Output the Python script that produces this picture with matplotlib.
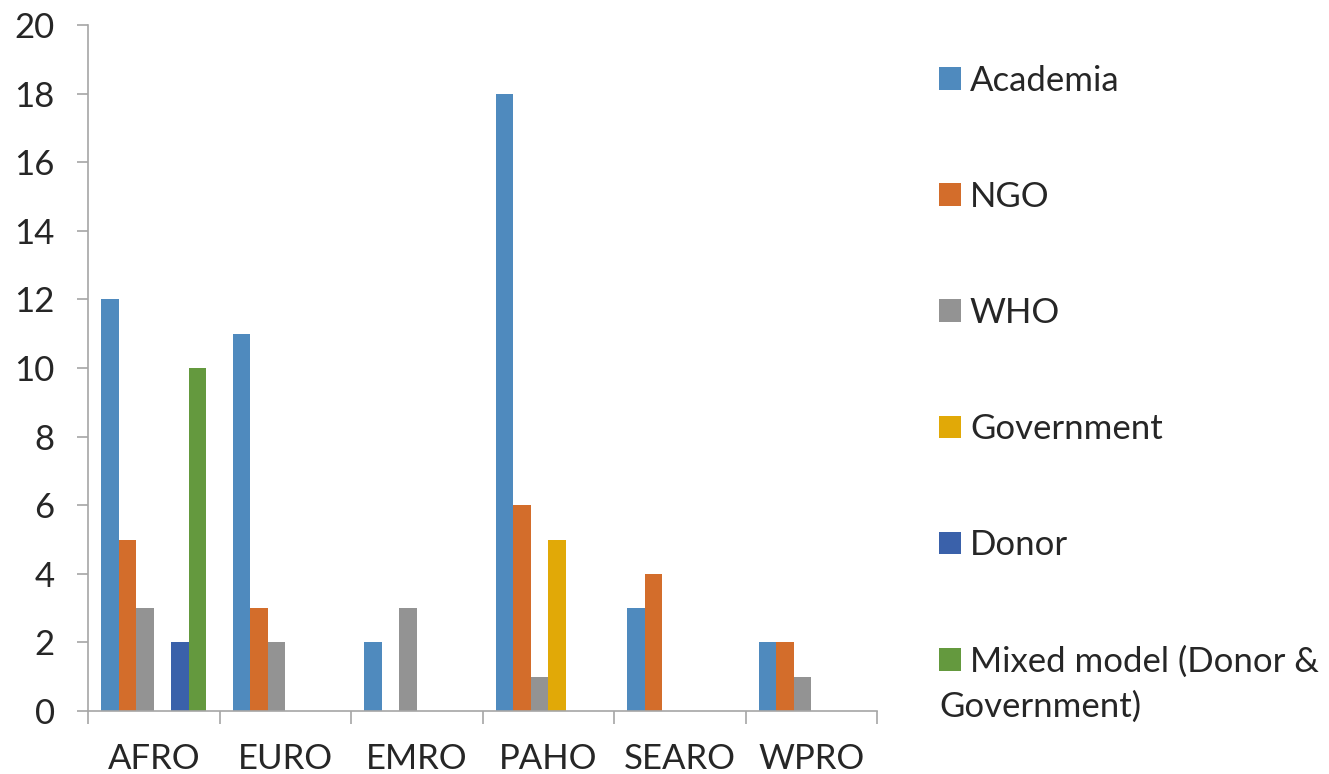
import matplotlib.pyplot as plt
import numpy as np

regions = ['AFRO', 'EURO', 'EMRO', 'PAHO', 'SEARO', 'WPRO']
series = ['Academia', 'NGO', 'WHO', 'Government', 'Donor',
          'Mixed model (Donor &']
academia = [12, 11, 2, 18, 3, 2]
ngo = [5, 3, 0, 6, 4, 2]
who = [3, 2, 3, 1, 0, 1]
government = [0, 0, 0, 5, 0, 0]
donor = [2, 0, 0, 0, 0, 0]
mixed = [10, 0, 0, 0, 0, 0]
values = [academia, ngo, who, government, donor, mixed]
colors = ['#4F8ABE', '#D36D2B', '#939393', '#E1A907', '#3A61AA', '#64993E']

plt.rcParams['font.family'] = ['Lato', 'DejaVu Sans']
fs = 25
txt = '#262626'
axc = '#A6A6A6'

fig = plt.figure(figsize=(13.29, 7.74), dpi=100)
ax = fig.add_axes([88 / 1329, 1 - 711 / 774, (877 - 88) / 1329, (711 - 25) / 774])

x = np.arange(len(regions))
w = 1 / 7.5
for i, (name, vals) in enumerate(zip(series, values)):
    ax.bar(x + (i - 2.5) * w, vals, width=w, color=colors[i], label=name,
           edgecolor='none')

ax.set_xlim(-0.5, len(regions) - 0.5)
ax.set_ylim(0, 20)
ax.set_yticks(range(0, 21, 2))
ax.set_xticks(x)
ax.set_xticklabels(regions)
ax.set_xticks(np.arange(-0.5, len(regions), 1), minor=True)
ax.tick_params(axis='x', which='major', length=0, pad=23, labelsize=fs, labelcolor=txt)
ax.tick_params(axis='x', which='minor', length=9, width=1.2, color=axc)
ax.tick_params(axis='y', length=8, width=1.2, color=axc, pad=16, labelsize=fs, labelcolor=txt)

for s in ['top', 'right']:
    ax.spines[s].set_visible(False)
for s in ['left', 'bottom']:
    ax.spines[s].set_color(axc)
    ax.spines[s].set_linewidth(1.2)

leg = ax.legend(loc='upper left', bbox_to_anchor=(939 / 1329, 1 - 65 / 774),
                bbox_transform=fig.transFigure, frameon=False, fontsize=fs,
                handlelength=0.63, handleheight=0.63, handletextpad=0.26,
                labelspacing=2.42, borderaxespad=0, borderpad=0)
for t in leg.get_texts():
    t.set_color(txt)

fig.canvas.draw()
r = fig.canvas.get_renderer()
hb = leg.get_patches()[-1].get_window_extent(r)
tb = leg.get_texts()[-1].get_window_extent(r)
fig.text(hb.x0 / fig.bbox.width, ((tb.y0 + tb.y1) / 2 - 45) / fig.bbox.height,
         'Government)', fontsize=fs, color=txt, va='center', ha='left')

fig.savefig('out.png', dpi=100)
